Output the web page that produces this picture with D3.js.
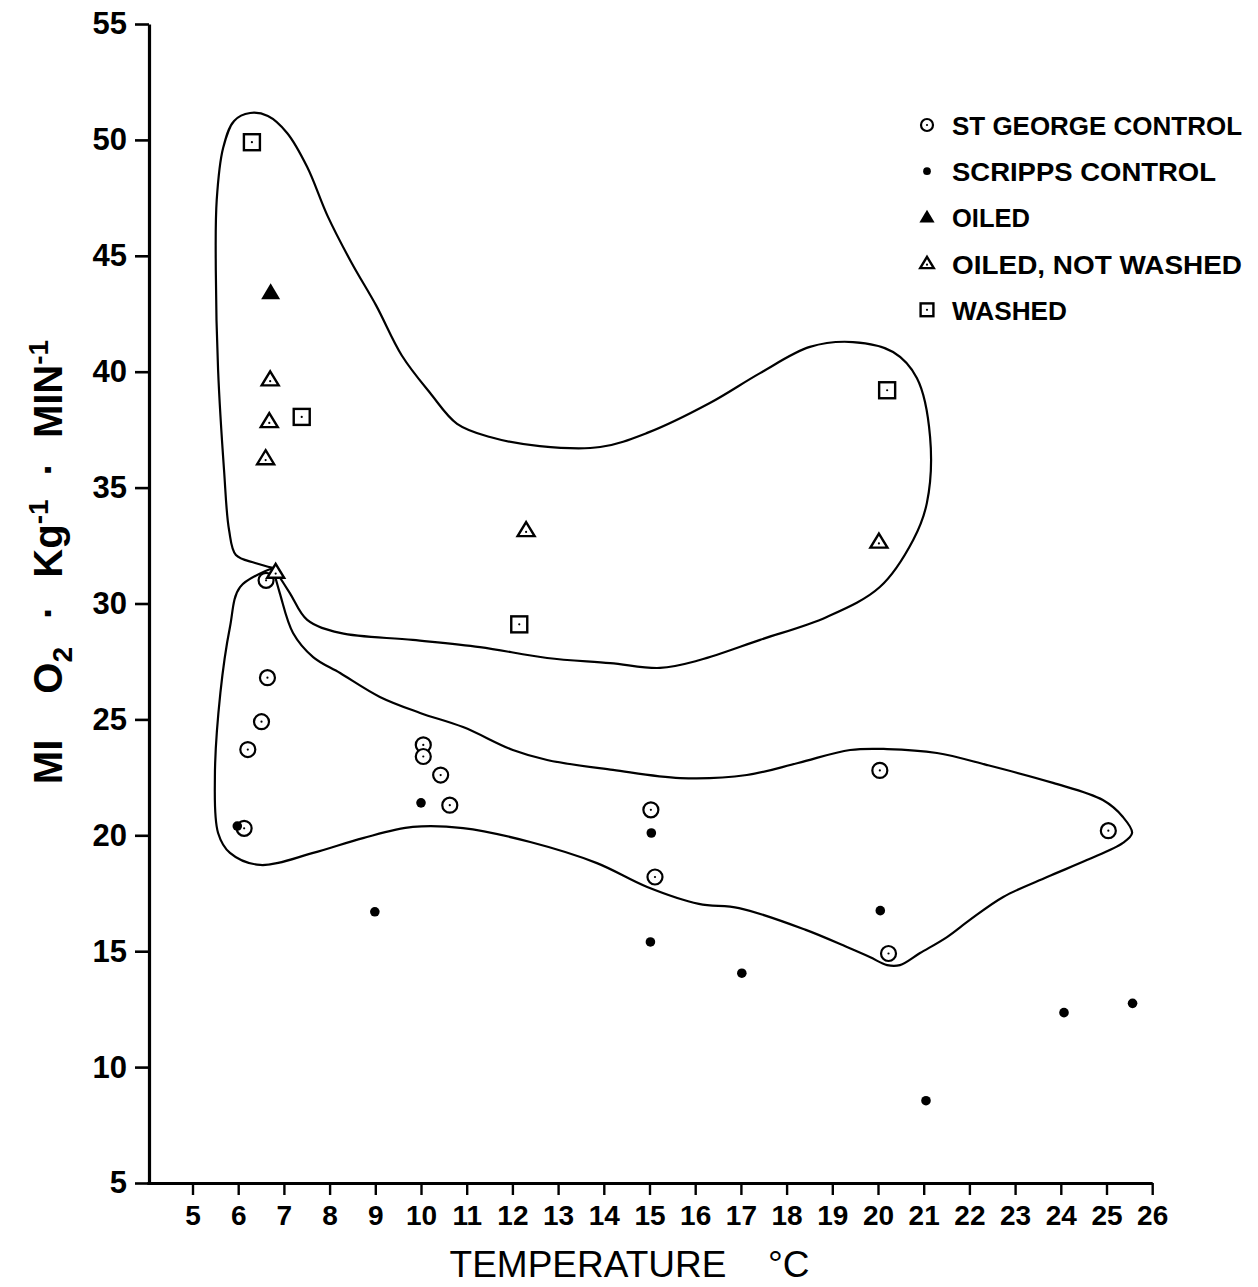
<!DOCTYPE html>
<html>
<head>
<meta charset="utf-8">
<script src="https://cdn.jsdelivr.net/npm/d3@7"></script>
<style>
  html, body { margin: 0; padding: 0; background: #fff; }
  svg { display: block; }
  text { fill: #000; }
</style>
</head>
<body>
<svg id="chart" width="1258" height="1287"></svg>
<script>
// Oxygen consumption vs. temperature, by treatment group
const xTicks = [5,6,7,8,9,10,11,12,13,14,15,16,17,18,19,20,21,22,23,24,25,26];
const yTicks = [5,10,15,20,25,30,35,40,45,50,55];

const legendLabels = ["ST GEORGE CONTROL", "SCRIPPS CONTROL", "OILED", "OILED, NOT WASHED", "WASHED"];
const legendShapes = ["ringDot", "dot", "triFill", "triOpen", "square"];

// St George control birds (temperature °C, ml O2/kg/min)
const stGeorgeTemp = [6.61, 6.64, 6.51, 6.21, 6.13, 10.05, 10.05, 10.43, 10.63, 15.03, 15.12, 20.04, 20.23, 25.04];
const stGeorgeO2   = [31.0, 26.8, 24.9, 23.7, 20.3, 23.9, 23.4, 22.6, 21.3, 21.1, 18.2, 22.8, 14.9, 20.2];

// Scripps control birds
const scrippsTemp = [5.98, 8.99, 10.0, 15.04, 15.02, 17.02, 20.05, 21.05, 24.07, 25.57];
const scrippsO2   = [20.4, 16.7, 21.4, 20.1, 15.4, 14.05, 16.75, 8.55, 12.35, 12.75];

// Oiled
const oiledTemp = [6.71];
const oiledO2   = [43.4];

// Oiled, not washed
const oiledNotWashedTemp = [6.70, 6.68, 6.60, 6.82, 12.30, 20.02];
const oiledNotWashedO2   = [39.65, 37.85, 36.25, 31.35, 33.15, 32.65];

// Washed
const washedTemp = [6.30, 7.39, 12.15, 20.20];
const washedO2   = [49.9, 38.05, 29.1, 39.2];

// Hand-drawn envelope around the oiled / washed groups (temperature, O2)
const upperEnvelope = [
  [6.78,31.53],[6.37,31.75],[5.95,32.09],[5.80,33.17],[5.69,35.76],[5.56,40.07],[5.51,44.39],
  [5.53,47.41],[5.67,49.65],[5.91,50.82],[6.26,51.16],[6.65,51.03],[7.07,50.30],[7.51,48.83],
  [7.96,46.70],[8.48,44.70],[9.02,42.85],[9.58,40.70],[10.20,39.08],[10.79,37.75],[11.51,37.18],
  [12.60,36.79],[13.92,36.75],[14.95,37.36],[16.32,38.65],[17.42,39.94],[18.51,41.07],[19.45,41.28],
  [20.33,40.85],[20.85,39.73],[21.14,37.18],[21.07,34.34],[20.77,32.74],[20.04,30.71],[18.88,29.42],
  [17.42,28.43],[16.10,27.56],[15.23,27.22],[14.14,27.43],[12.76,27.65],[11.29,28.12],[9.82,28.43],
  [8.23,28.73],[7.51,29.29],[7.13,30.45],[6.78,31.53]
];

// Hand-drawn envelope around the St George controls
const lowerEnvelope = [
  [6.76,31.53],[6.91,30.45],[7.20,28.73],[7.64,27.69],[8.23,27.00],[9.10,25.97],[9.98,25.28],
  [10.92,24.67],[12.01,23.68],[12.76,23.25],[14.20,22.82],[15.67,22.47],[17.13,22.60],[18.25,23.12],
  [19.39,23.68],[20.20,23.72],[21.29,23.55],[22.39,23.03],[23.83,22.26],[24.92,21.52],[25.36,20.79],
  [25.56,20.10],[25.36,19.67],[24.57,18.93],[23.70,18.20],[22.74,17.34],[22.01,16.35],[21.51,15.61],
  [20.92,14.92],[20.48,14.40],[20.20,14.40],[19.82,14.75],[19.32,15.18],[18.42,15.92],[16.96,16.86],
  [16.08,17.04],[14.95,17.77],[13.85,18.80],[12.39,19.71],[10.92,20.31],[9.82,20.36],[8.73,19.88],
  [7.64,19.24],[6.48,18.72],[5.82,19.24],[5.56,20.10],[5.49,22.51],[5.61,26.14],[5.82,28.99],
  [6.04,30.71],[6.76,31.53]
];

const svg = d3.select("#chart");
const FONT = "'Liberation Sans', Arial, Helvetica, sans-serif";

const x = d3.scaleLinear().domain([4, 26]).range([146.8, 1152.2]);
const y = d3.scaleLinear().domain([5, 55]).range([1183, 24]);
const axisX = 149;

// Envelopes
const envLine = d3.line()
  .x(d => x(d[0]))
  .y(d => y(d[1]))
  .curve(d3.curveCatmullRom.alpha(0.5));

svg.append("g").selectAll("path")
  .data([upperEnvelope, lowerEnvelope])
  .join("path")
  .attr("d", envLine)
  .attr("fill", "none")
  .attr("stroke", "#000")
  .attr("stroke-width", 2.2)
  .attr("stroke-linejoin", "round");

// Axes
const yAxis = d3.axisLeft(y).tickValues(yTicks).tickSize(14).tickSizeOuter(0).tickPadding(8)
  .tickFormat(d3.format("d"));
const gy = svg.append("g").attr("transform", `translate(${axisX},0)`).call(yAxis);
gy.select(".domain").attr("stroke-width", 3.2);
gy.selectAll(".tick line").attr("stroke-width", 2.6);
gy.selectAll(".tick text")
  .attr("font-family", FONT).attr("font-size", 31).attr("font-weight", "bold")
  .attr("fill", "#000");

const xAxis = d3.axisBottom(x).tickValues(xTicks).tickSize(12).tickSizeOuter(0).tickPadding(10)
  .tickFormat(d3.format("d"));
const gx = svg.append("g").attr("transform", `translate(0,${y(5)})`).call(xAxis);
gx.select(".domain").attr("stroke-width", 2.8);
gx.selectAll(".tick line").attr("stroke-width", 2.4);
gx.selectAll(".tick text")
  .attr("font-family", FONT).attr("font-size", 28).attr("font-weight", "bold")
  .attr("fill", "#000");

// Axis titles
svg.append("text")
  .attr("x", 588).attr("y", 1277)
  .attr("text-anchor", "middle")
  .attr("font-family", FONT).attr("font-size", 37)
  .text("TEMPERATURE");
svg.append("text")
  .attr("x", 768).attr("y", 1277)
  .attr("font-family", FONT).attr("font-size", 37)
  .text("°C");

const yTitle = svg.append("text")
  .attr("transform", "translate(62,562) rotate(-90)")
  .attr("text-anchor", "middle")
  .attr("font-family", FONT).attr("font-size", 40).attr("font-weight", "bold");
yTitle.append("tspan").text("MI");
yTitle.append("tspan").attr("dx", 46).text("O");
yTitle.append("tspan").attr("font-size", 28).attr("dy", 10).text("2");
yTitle.append("tspan").attr("dy", -10).attr("dx", 28).text("·");
yTitle.append("tspan").attr("dx", 28).text("Kg");
yTitle.append("tspan").attr("font-size", 28).attr("dy", -14).text("-1");
yTitle.append("tspan").attr("dy", 14).attr("dx", 24).text("·");
yTitle.append("tspan").attr("dx", 24).text("MIN");
yTitle.append("tspan").attr("font-size", 28).attr("dy", -14).text("-1");

// Marker drawing
function drawMarker(g, shape, s) {
  // s = scale factor (1 for plot, smaller for legend)
  if (shape === "ringDot") {
    g.append("circle").attr("r", 7.5 * s).attr("fill", "#fff").attr("stroke", "#000").attr("stroke-width", 2.2);
    g.append("circle").attr("r", 1.1).attr("fill", "#000");
  } else if (shape === "dot") {
    g.append("circle").attr("r", 4.8 * s).attr("fill", "#000");
  } else if (shape === "triFill") {
    const h = 16 * s, w = 19 * s;
    g.append("path").attr("d", `M0,${-h * 0.6}L${w / 2},${h * 0.4}L${-w / 2},${h * 0.4}Z`).attr("fill", "#000");
  } else if (shape === "triOpen") {
    const h = 14 * s, w = 17 * s;
    g.append("path").attr("d", `M0,${-h * 0.6}L${w / 2},${h * 0.4}L${-w / 2},${h * 0.4}Z`)
      .attr("fill", "#fff").attr("stroke", "#000").attr("stroke-width", 2.4).attr("stroke-linejoin", "miter");
    g.append("circle").attr("cy", h * 0.1).attr("r", 1.1).attr("fill", "#000");
  } else if (shape === "square") {
    const a = 16 * s;
    g.append("rect").attr("x", -a / 2).attr("y", -a / 2).attr("width", a).attr("height", a)
      .attr("fill", "#fff").attr("stroke", "#000").attr("stroke-width", 2.4);
    g.append("circle").attr("r", 1.1).attr("fill", "#000");
  }
}

const groups = [
  { temp: stGeorgeTemp, o2: stGeorgeO2, shape: "ringDot" },
  { temp: scrippsTemp, o2: scrippsO2, shape: "dot" },
  { temp: washedTemp, o2: washedO2, shape: "square" },
  { temp: oiledNotWashedTemp, o2: oiledNotWashedO2, shape: "triOpen" },
  { temp: oiledTemp, o2: oiledO2, shape: "triFill" }
];

const pts = svg.append("g");
groups.forEach(grp => {
  grp.temp.forEach((t, i) => {
    const g = pts.append("g").attr("transform", `translate(${x(t)},${y(grp.o2[i])})`);
    drawMarker(g, grp.shape, 1);
  });
});

// Legend
const legendX = 927, legendY0 = 125, legendStep = 46.2;
const legendWidths = [290, 264, 78, 290, 115];
const lg = svg.append("g");
legendLabels.forEach((lab, i) => {
  const cy = legendY0 + i * legendStep;
  const g = lg.append("g").attr("transform", `translate(${legendX},${cy})`);
  drawMarker(g, legendShapes[i], 0.8);
  lg.append("text")
    .attr("x", 952).attr("y", cy + 10)
    .attr("font-family", FONT).attr("font-size", 26).attr("font-weight", "bold")
    .attr("textLength", legendWidths[i]).attr("lengthAdjust", "spacingAndGlyphs")
    .text(lab);
});
</script>
</body>
</html>
